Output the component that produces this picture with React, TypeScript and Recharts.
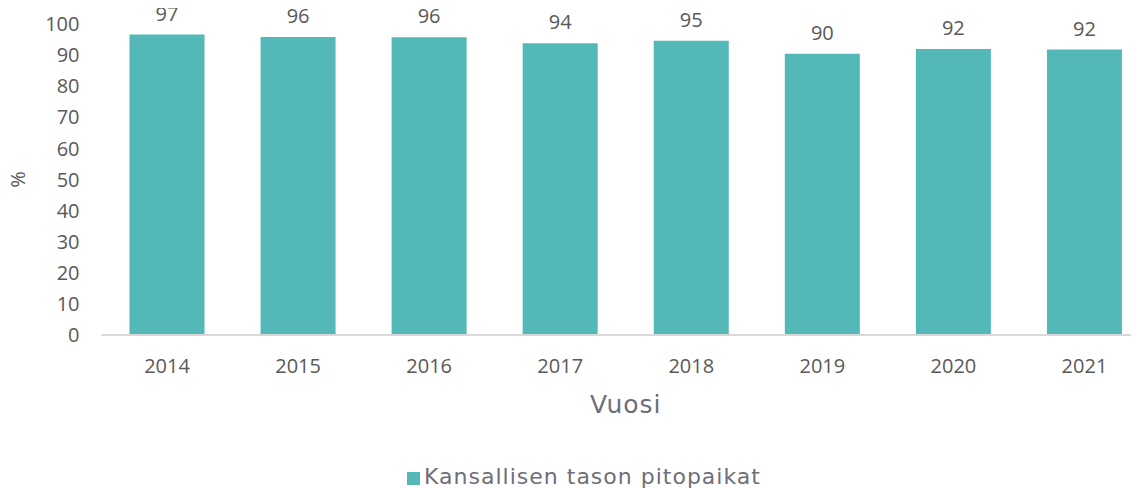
import React from 'react';
import { BarChart, Bar, XAxis, YAxis, Legend, LabelList } from 'recharts';

const years = ['2014', '2015', '2016', '2017', '2018', '2019', '2020', '2021'];
const shares = [96.6, 95.8, 95.7, 93.8, 94.6, 90.4, 92.0, 91.8];
const yTicks = [0, 10, 20, 30, 40, 50, 60, 70, 80, 90, 100];

const chartData = years.map((year, i) => ({ year, value: shares[i] }));

const tickFont = { fontFamily: '"Open Sans", sans-serif', fontSize: 20, fill: '#595959' };

export default function App() {
  // cancel the body margin so the chart sits at the page corner
  return (
    <div style={{ margin: '-8px 0 0 -8px', width: 1139, height: 488, overflow: 'hidden' }}>
      <BarChart
        width={1153}
        height={488}
        data={chartData}
        margin={{ top: 24, right: 3, left: 0, bottom: 0 }}
        barSize={75}
      >
        <XAxis
          dataKey="year"
          height={129}
          tickLine={false}
          tickMargin={18}
          axisLine={{ stroke: '#d9d9d9', strokeWidth: 2 }}
          tick={tickFont}
          label={{
            value: 'Vuosi',
            position: 'insideTop',
            offset: 60,
            style: { fontFamily: '"DejaVu Sans", sans-serif', fontSize: 25, letterSpacing: 1, fill: '#6e6e7a' },
          }}
        />
        <YAxis
          width={101.5}
          domain={[0, 100]}
          ticks={yTicks}
          interval={0}
          tickLine={false}
          axisLine={false}
          tickMargin={16}
          tick={tickFont}
          label={{
            value: '%',
            angle: -90,
            position: 'insideLeft',
            offset: 18,
            style: { textAnchor: 'middle', fontFamily: '"Open Sans", sans-serif', fontSize: 20, fill: '#595959' },
          }}
        />
        <Legend
          verticalAlign="bottom"
          iconType="square"
          iconSize={13}
          wrapperStyle={{ height: 24, paddingLeft: 14, fontFamily: '"DejaVu Sans", sans-serif', fontSize: 22, letterSpacing: 1 }}
          formatter={(v) => <span style={{ color: '#6e6e7a' }}>{v}</span>}
        />
        <Bar dataKey="value" name="Kansallisen tason pitopaikat" fill="#53b8b7" isAnimationActive={false}>
          <LabelList
            dataKey="value"
            position="top"
            offset={14}
            formatter={(v) => Math.round(Number(v))}
            style={{ fontFamily: '"Open Sans", sans-serif', fontSize: 20, fill: '#595959' }}
          />
        </Bar>
      </BarChart>
    </div>
  );
}
